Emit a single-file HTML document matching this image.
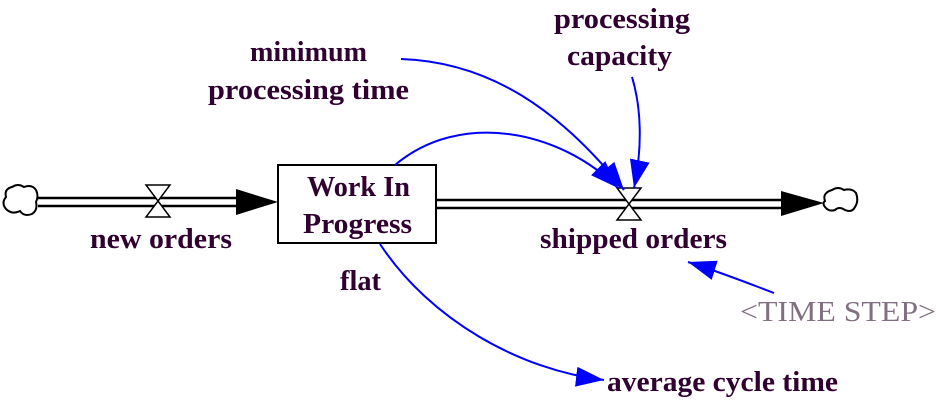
<!DOCTYPE html>
<html><head><style>
html,body{margin:0;padding:0;background:#fff;}
svg{display:block;}
text{font-family:"Liberation Serif",serif;font-size:29px;font-weight:bold;fill:#300030;}
</style></head><body>
<svg width="936" height="408" viewBox="0 0 936 408" xmlns="http://www.w3.org/2000/svg">
<defs>
<marker id="b" markerUnits="userSpaceOnUse" markerWidth="32" markerHeight="24" refX="28" refY="10" orient="auto">
<path d="M0,0 L28,10 L0,20 Z" fill="#0000ff"/>
</marker>
</defs>
<path d="M12,187 q6,-4 12,0 q8,-3 12,3 q3,6 0,12 q2,8 -4,12 q-8,3 -12,-3 q-8,4 -14,-2 q-5,-6 0,-12 q-2,-8 6,-10 Z" fill="#fff" stroke="#000" stroke-width="2"/>
<line x1="38" y1="198" x2="240" y2="198" stroke="#000" stroke-width="2.5"/>
<line x1="38" y1="206" x2="240" y2="206" stroke="#000" stroke-width="2.5"/>
<path d="M236,189 L278,202 L236,215 Z" fill="#000"/>
<path d="M146,185 L170,185 L146,217 L170,217 Z" fill="#fff" stroke="#000" stroke-width="1.5"/>
<line x1="436" y1="200" x2="785" y2="200" stroke="#000" stroke-width="2.5"/>
<line x1="436" y1="208" x2="785" y2="208" stroke="#000" stroke-width="2.5"/>
<path d="M781,191 L824,203 L781,216 Z" fill="#000"/>
<path d="M832,190 q6,-4 12,0 q8,-2 12,3 q3,8 -1,14 q-3,6 -10,3 q-6,-4 -10,0 q-6,2 -10,-3 q-3,-4 0,-6 q-3,-8 7,-11 Z" fill="#fff" stroke="#000" stroke-width="2"/>
<path d="M617,188 L641,188 L617,220 L641,220 Z" fill="#fff" stroke="#000" stroke-width="1.5"/>
<rect x="278" y="165" width="158" height="78" fill="#fff" stroke="#000" stroke-width="2"/>
<text x="307" y="196" textLength="103" lengthAdjust="spacingAndGlyphs">Work In</text>
<text x="303" y="233" textLength="109" lengthAdjust="spacingAndGlyphs">Progress</text>
<g fill="none" stroke="#0000ff" stroke-width="2" marker-end="url(#b)">
<path d="M401,59 C490,62 560,110 624,190"/>
<path d="M395,165 C460,110 560,130 618,188"/>
<path d="M632,77 C642,110 642,150 634,188"/>
<path d="M380,244 C430,320 520,370 604,380"/>
<path d="M774,293 C745,282 720,272 688,262"/>
</g>
<text x="90" y="248" textLength="142" lengthAdjust="spacingAndGlyphs">new orders</text>
<text x="540" y="248" textLength="187" lengthAdjust="spacingAndGlyphs">shipped orders</text>
<text x="340" y="290" textLength="41" lengthAdjust="spacingAndGlyphs">flat</text>
<text x="250" y="61" textLength="117" lengthAdjust="spacingAndGlyphs">minimum</text>
<text x="208" y="99" textLength="201" lengthAdjust="spacingAndGlyphs">processing time</text>
<text x="554" y="28" textLength="136" lengthAdjust="spacingAndGlyphs">processing</text>
<text x="567" y="65" textLength="105" lengthAdjust="spacingAndGlyphs">capacity</text>
<text x="740" y="321" textLength="196" lengthAdjust="spacingAndGlyphs" style="fill:#807080;font-weight:normal">&lt;TIME STEP&gt;</text>
<text x="607" y="391" textLength="231" lengthAdjust="spacingAndGlyphs">average cycle time</text>
</svg>
</body></html>
